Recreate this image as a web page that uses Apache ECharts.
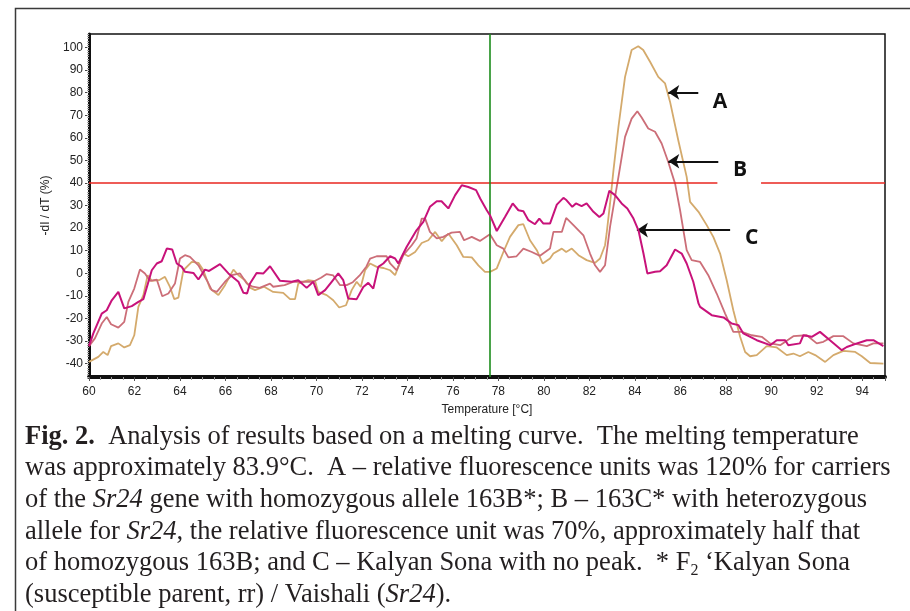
<!DOCTYPE html>
<html>
<head>
<meta charset="utf-8">
<title>Melting curve</title>
<script src="https://cdn.jsdelivr.net/npm/echarts@6/dist/echarts.min.js"></script>
<style>
  html, body { margin: 0; padding: 0; background: #fff; }
  #chart { width: 910px; height: 611px; }
</style>
</head>
<body>
<div id="chart"></div>
<script>
// tick labels
const xTicks = [60, 62, 64, 66, 68, 70, 72, 74, 76, 78, 80, 82, 84, 86, 88, 90, 92, 94]
const yTicks = [-40, -30, -20, -10, 0, 10, 20, 30, 40, 50, 60, 70, 80, 90, 100]

// curve A (tan): temperature, -dI/dT
const curveA = [[60.0,-39.3],[60.41,-37.1],[60.63,-34.9],[60.82,-36.3],[60.97,-32.3],[61.29,-31.1],[61.55,-32.9],[61.8,-31.9],[61.99,-27.5],[62.17,-14.9],[62.39,-9.7],[62.58,-0.9],[62.76,-3.4],[63.08,-3.1],[63.34,-1.6],[63.56,-6.1],[63.75,-11.5],[63.93,-10.8],[64.15,1.3],[64.52,5.0],[64.81,4.6],[65.03,1.3],[65.32,-6.8],[65.69,-9.7],[65.98,-5.3],[66.35,1.6],[66.57,-0.9],[66.86,-3.1],[67.1,-6.5],[67.3,-7.5],[67.7,-6],[68.1,-8.3],[68.54,-8.7],[68.84,-11.5],[69.06,-11.5],[69.2,-4.6],[69.64,-3.1],[69.94,-3.5],[70.08,-8.3],[70.45,-9.7],[70.74,-12],[71.0,-15.2],[71.3,-14.2],[71.55,-7.5],[71.77,-3.8],[71.95,-6.1],[72.14,1.3],[72.36,4.3],[72.65,2.8],[72.95,2.3],[73.24,1.3],[73.46,-0.9],[73.82,8.7],[74.04,7.5],[74.34,9.4],[74.63,13.4],[74.92,14.6],[75.22,18.3],[75.51,14.2],[75.8,17.6],[76.17,12.4],[76.46,7.2],[76.83,7],[77.12,3.5],[77.41,0.6],[77.63,0.6],[77.93,2.1],[78.22,9.4],[78.51,16.1],[78.88,21.3],[79.1,21.7],[79.39,14.6],[79.69,10.2],[79.95,4.3],[80.27,6.5],[80.42,8.7],[80.79,10.9],[80.98,9.4],[81.23,10.9],[81.52,8],[81.88,5.8],[82.25,4.6],[82.47,6.5],[82.69,12.4],[82.76,17.6],[82.91,30.9],[83.06,45.6],[83.28,64.9],[83.57,87],[83.86,98.9],[84.15,100.6],[84.37,98.9],[84.67,93.7],[85.03,87],[85.33,84.1],[85.55,75.9],[85.91,58.9],[86.28,42.7],[86.43,31.6],[86.8,27.2],[87.16,21.3],[87.45,16.1],[87.75,8.7],[88.04,-3.1],[88.33,-16.4],[88.63,-28.2],[88.85,-34.9],[89.07,-36.8],[89.36,-36.3],[89.8,-32.3],[90.24,-32.9],[90.68,-36.3],[90.97,-35.6],[91.26,-36.8],[91.63,-34.9],[91.93,-36.3],[92.37,-39.3],[92.73,-36.3],[93.17,-34.4],[93.69,-34.9],[93.98,-36.8],[94.35,-39.8],[94.93,-40.1]]

// curve B (rose)
const curveB = [[60,-32.3],[60.26,-28.9],[60.56,-22.3],[60.78,-19.4],[60.97,-22.6],[61.29,-24.1],[61.55,-21.6],[61.73,-12.7],[61.99,-6.8],[62.24,1.6],[62.46,-0.1],[62.68,-3.4],[62.98,-2.8],[63.22,-10.2],[63.49,-9],[63.78,-4.6],[64.0,6.5],[64.22,8.0],[64.44,7.2],[64.81,3.5],[65.18,-3.1],[65.4,-7.5],[65.62,-8.3],[65.98,-3.8],[66.28,-0.9],[66.64,-0.1],[66.94,-4.6],[67.2,-6],[67.5,-6.5],[67.96,-4.6],[68.1,-6],[68.6,-5.3],[69.0,-3.8],[69.28,-3.8],[69.86,-3.8],[70.2,-2],[70.45,-0.4],[70.74,-1],[71.04,-5.3],[71.33,-5.3],[71.6,-4],[71.9,-1],[72.2,3],[72.36,6.5],[72.65,7.5],[72.9,7.5],[73.09,7.5],[73.24,4.3],[73.53,1.3],[73.82,8],[74.19,12.4],[74.4,15.4],[74.63,24.2],[74.78,24.2],[74.99,18.3],[75.29,15.4],[75.58,16.1],[75.94,18],[76.31,18.3],[76.49,14.6],[76.83,16.1],[77.19,14.3],[77.63,17.3],[77.93,12.4],[78.22,10.9],[78.44,7],[78.8,7.5],[79.1,10.9],[79.47,9.4],[79.83,7.7],[80.27,10.9],[80.42,18.3],[80.79,18.3],[80.98,24.5],[81.3,21.3],[81.74,16.8],[82.03,8.7],[82.25,3.5],[82.47,0.6],[82.69,3.5],[82.91,20.5],[83.13,33.8],[83.28,42.7],[83.57,60.4],[83.86,68.5],[84.11,71.8],[84.3,69],[84.59,64.1],[84.89,62.7],[85.18,57.5],[85.47,49.3],[85.77,39.7],[85.99,27.9],[86.28,10.2],[86.5,5.8],[86.87,5],[87.23,-0.9],[87.6,-9],[87.97,-17.9],[88.33,-26],[88.7,-26],[89.14,-27.5],[89.58,-28.2],[89.95,-31.1],[90.39,-31.9],[90.97,-27.9],[91.56,-27.5],[92.0,-31.1],[92.29,-30.4],[92.73,-27.9],[93.17,-27.9],[93.61,-31.1],[94.2,-32.3],[94.49,-31.1],[94.93,-31.1]]

// curve C (magenta)
const curveC = [[60,-32.3],[60.19,-26.7],[60.56,-17.9],[60.78,-16.4],[61.0,-12],[61.29,-8.3],[61.55,-15.6],[61.88,-14.6],[62.17,-12.7],[62.39,-11.5],[62.76,1.3],[62.98,4.3],[63.2,5.3],[63.42,10.9],[63.66,10.5],[63.86,4.3],[64.08,2.8],[64.22,0.6],[64.59,0.1],[64.81,-2.8],[65.1,1.6],[65.28,1.0],[65.76,4.0],[66.13,-0.1],[66.57,-3.8],[66.79,-8.7],[66.95,-9],[67.08,-4.6],[67.37,0.1],[67.67,-0.1],[67.96,3.1],[68.4,-3.4],[68.91,-3.8],[69.2,-3.1],[69.57,-6.5],[69.86,-3.8],[70.08,-9.7],[70.38,-7.5],[70.67,-3.8],[70.96,-0.1],[71.18,-3.1],[71.4,-11.2],[71.77,-11.5],[72.06,-6.1],[72.28,-4.3],[72.5,-6.8],[72.72,2.8],[72.94,4.3],[73.24,7.5],[73.46,6.5],[73.6,4.3],[73.97,11.7],[74.4,19],[74.7,22.7],[74.99,29.4],[75.29,31.9],[75.5,31.9],[75.8,28.7],[76.1,34.6],[76.39,39],[76.68,38.2],[77.02,36.8],[77.2,33.1],[77.49,27.9],[77.63,25.7],[77.93,18.7],[78.29,24.9],[78.63,30.9],[78.88,27.9],[79.1,27.5],[79.32,23.5],[79.61,21.7],[79.8,24.2],[79.98,22],[80.27,22],[80.57,30.4],[80.86,33.4],[81.0,32.3],[81.25,29.4],[81.41,30.9],[81.66,29.7],[81.88,30.9],[82.18,27.2],[82.44,24.9],[82.62,26.5],[82.88,36.5],[83.13,34.6],[83.42,30.9],[83.67,28.7],[83.94,24.2],[84.16,19],[84.38,8.7],[84.55,-0.1],[84.89,0.6],[85.11,0.9],[85.4,3.5],[85.77,10.5],[86.06,8.7],[86.28,4.3],[86.57,-3.8],[86.8,-13.4],[86.87,-14.9],[87.38,-18.6],[87.9,-19.6],[88.26,-22.3],[88.55,-23],[88.77,-26.7],[89.36,-29.7],[89.95,-31.9],[90.24,-29.7],[90.61,-29.7],[90.75,-31.9],[91.26,-31.1],[91.41,-27.5],[91.78,-28.2],[92.14,-26],[92.58,-29.7],[93.1,-34.1],[93.32,-32.7],[93.83,-30.9],[94.2,-29.7],[94.49,-29.7],[94.93,-32.3]]

// threshold, melting marker and the arrows (tail -> tip) with their letters
const threshold = 40
const markerTemp = 77.6
const arrowA = [[86.79, 80.1], [85.47, 80.1]]
const arrowB = [[87.67, 49.6], [85.47, 49.6]]
const arrowC = [[88.19, 19.1], [84.09, 19.1]]
const letterPos = { A: [87.75, 75.9], B: [88.63, 45.9], C: [89.14, 15.4] }

const caption = [
  '{b|Fig. 2.}  Analysis of results based on a melting curve.  The melting temperature',
  'was approximately 83.9°C.  A – relative fluorescence units was 120% for carriers',
  'of the {i|Sr24} gene with homozygous allele 163B*; B – 163C* with heterozygous',
  'allele for {i|Sr24}, the relative fluorescence unit was 70%, approximately half that',
  'of homozygous 163B; and C – Kalyan Sona with no peak.  * F{sub|2} ‘Kalyan Sona',
  '(susceptible parent, rr) / Vaishali ({i|Sr24}).'
]

const chart = echarts.init(document.getElementById('chart'))

const serif = 'Liberation Serif'
const sans = 'Liberation Sans'
const capSize = 26.5

function arrowLine(pts) {
  return [{ coord: pts[0], symbol: 'none' }, { coord: pts[1], symbol: 'arrow' }]
}

const option = {
  animation: false,
  backgroundColor: '#fff',
  title: {
    left: 25,
    top: 421,
    padding: 0,
    text: caption.join('\n'),
    textStyle: {
      fontFamily: serif,
      fontSize: capSize,
      fontWeight: 'normal',
      color: '#231f20',
      lineHeight: 31.6,
      rich: {
        b: { fontFamily: serif, fontSize: capSize, fontWeight: 'bold', color: '#231f20', lineHeight: 31.6 },
        i: { fontFamily: serif, fontSize: capSize, fontStyle: 'italic', color: '#231f20', lineHeight: 31.6 },
        sub: { fontFamily: serif, fontSize: 16, color: '#231f20', lineHeight: 14, verticalAlign: 'bottom' }
      }
    }
  },
  graphic: [{
    type: 'rect',
    silent: true,
    shape: { x: 15.5, y: 8.5, width: 1000, height: 800 },
    style: { fill: 'none', stroke: '#3a3a3a', lineWidth: 1.5 }
  }],
  grid: {
    left: 89, right: 25, top: 34, bottom: 234,
    show: true, borderColor: '#111', borderWidth: 1.5, backgroundColor: '#fff'
  },
  xAxis: {
    type: 'value',
    min: 60, max: 95, interval: 2,
    name: 'Temperature [°C]',
    nameLocation: 'middle',
    nameGap: 27,
    nameTextStyle: { fontFamily: sans, fontSize: 12, color: '#222' },
    axisLine: { show: true, onZero: false, lineStyle: { color: '#111', width: 4 } },
    axisTick: { show: true, length: 4, lineStyle: { color: '#555' } },
    minorTick: { show: true, splitNumber: 4, length: 3, lineStyle: { color: '#999' } },
    axisLabel: { fontFamily: sans, fontSize: 12, color: '#222', margin: 9, showMaxLabel: false },
    splitLine: { show: false }
  },
  yAxis: [{
    type: 'value',
    min: -46, max: 106,
    name: '-dI / dT (%)',
    nameLocation: 'middle',
    nameGap: 30,
    nameRotate: 90,
    nameTextStyle: { fontFamily: sans, fontSize: 12, color: '#222' },
    axisLine: { show: true, onZero: false, lineStyle: { color: '#111', width: 3 } },
    axisTick: { show: true, length: 4, customValues: yTicks, lineStyle: { color: '#444' } },
    axisLabel: { fontFamily: sans, fontSize: 12, color: '#222', margin: 6, customValues: yTicks },
    splitLine: { show: false }
  }, {
    type: 'value',
    position: 'left',
    min: -46, max: 106, interval: 1,
    axisLine: { show: false },
    axisTick: { show: true, length: 2, lineStyle: { color: '#aaa' } },
    axisLabel: { show: false },
    splitLine: { show: false }
  }],
  series: [{
    name: 'A', type: 'line', data: curveA, showSymbol: false, symbol: 'none',
    lineStyle: { color: '#d4aa6c', width: 1.8 }, z: 3
  }, {
    name: 'B', type: 'line', data: curveB, showSymbol: false, symbol: 'none',
    lineStyle: { color: '#cc6e78', width: 1.8 }, z: 4
  }, {
    name: 'C', type: 'line', data: curveC, showSymbol: false, symbol: 'none',
    lineStyle: { color: '#c8127a', width: 2 }, z: 5
  }, {
    name: 'marks', type: 'line', data: [], z: 2,
    markLine: {
      silent: true,
      symbol: 'none',
      label: { show: false },
      lineStyle: { type: 'solid' },
      data: [
        [{ coord: [60, threshold], lineStyle: { color: '#e8261f', width: 1.6 } }, { coord: [87.63, threshold] }],
        [{ coord: [89.55, threshold], lineStyle: { color: '#e8261f', width: 1.6 } }, { coord: [95, threshold] }],
        { xAxis: markerTemp, lineStyle: { color: '#1c8c1c', width: 1.6 } }
      ]
    }
  }, {
    name: 'arrows', type: 'line', data: [], z: 6,
    markLine: {
      silent: true,
      symbolSize: 11,
      label: { show: false },
      lineStyle: { type: 'solid', color: '#111', width: 2 },
      data: [arrowLine(arrowA), arrowLine(arrowB), arrowLine(arrowC)]
    },
    markPoint: {
      silent: true,
      symbol: 'circle',
      symbolSize: 1,
      itemStyle: { color: 'rgba(0,0,0,0)' },
      label: { show: true, position: 'inside', fontFamily: 'Open Sans', fontWeight: 'bold', fontSize: 21, color: '#111' },
      data: Object.keys(letterPos).map(k => ({ coord: letterPos[k], value: k, label: { formatter: k } }))
    }
  }]
}

chart.setOption(option)
</script>
</body>
</html>
